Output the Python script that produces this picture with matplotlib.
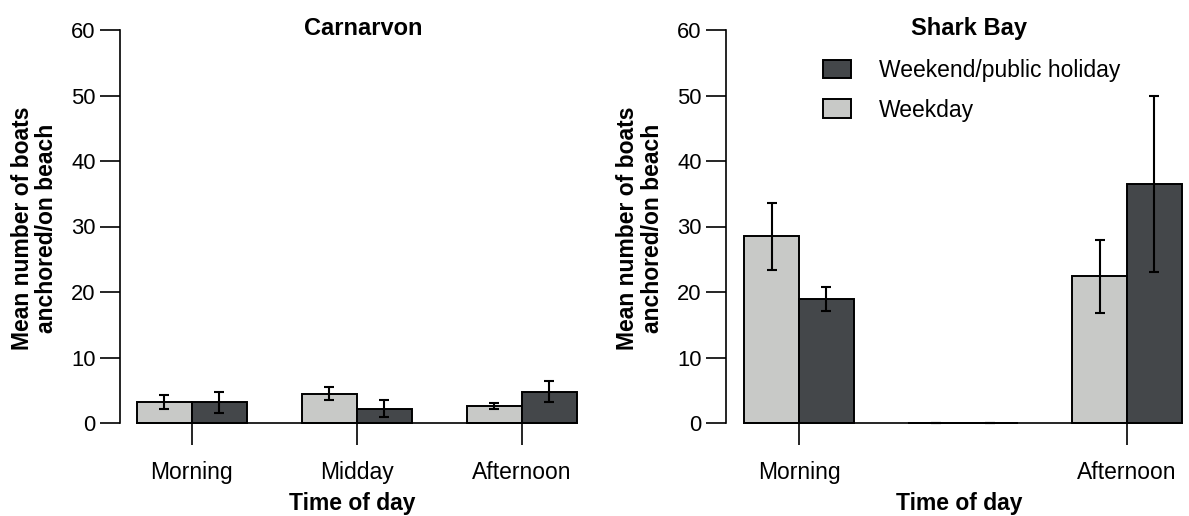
import matplotlib
matplotlib.use('Agg')
import matplotlib.pyplot as plt
import numpy as np

plt.rcParams['font.family'] = ['Liberation Sans', 'DejaVu Sans']

# ---- data ----
categories = ['Morning', 'Midday', 'Afternoon']

carn_weekday = [3.2, 4.5, 2.6]
carn_weekday_err = [1.0, 1.0, 0.5]
carn_weekend = [3.2, 2.2, 4.8]
carn_weekend_err = [1.6, 1.3, 1.6]

# Shark Bay: no midday observations
shark_weekday = [28.5, 0.0, 22.4]
shark_weekday_err = [5.1, 0.0, 5.6]
shark_weekend = [18.9, 0.0, 36.5]
shark_weekend_err = [1.8, 0.0, 13.4]
shark_tick_labels = ['Morning', 'Afternoon']

series_labels = ['Weekday', 'Weekend/public holiday']
y_ticks = [0, 10, 20, 30, 40, 50, 60]

LIGHT = '#c8c9c7'
DARK = '#44474a'

W, H = 1189, 516
fig = plt.figure(figsize=(W / 100, H / 100), dpi=100)
axL = fig.add_axes([120 / W, 93 / H, 457 / W, 393 / H])
axR = fig.add_axes([725.7 / W, 93 / H, 456 / W, 393 / H])


def panel(ax, title, wd, wd_err, we, we_err, tick_labels, x_off, title_x):
    x = np.arange(len(categories), dtype=float)
    w = 1 / 3
    wd = np.asarray(wd); we = np.asarray(we)
    wd_err = np.asarray(wd_err); we_err = np.asarray(we_err)
    b1 = ax.bar(x - w / 2, wd, w, color=LIGHT, edgecolor='black', linewidth=1.4,
                zorder=2, clip_on=False, label=series_labels[0])
    b2 = ax.bar(x + w / 2, we, w, color=DARK, edgecolor='black', linewidth=1.4,
                zorder=2, clip_on=False, label=series_labels[1])
    ax.errorbar(x - w / 2, wd, yerr=wd_err, fmt='none', ecolor='black',
                elinewidth=1.5, capsize=3.6, capthick=1.5, zorder=3, clip_on=False)
    ax.errorbar(x + w / 2, we, yerr=we_err, fmt='none', ecolor='black',
                elinewidth=1.5, capsize=3.6, capthick=1.5, zorder=3, clip_on=False)
    ax.set_ylim(0, 60)
    ax.set_yticks(y_ticks)
    ax.set_xlim(-w - x_off, 2 + w)
    tick_pos = [i for i, c in enumerate(categories) if c in tick_labels]
    ax.set_xticks(tick_pos)
    ax.set_xticklabels([categories[i] for i in tick_pos])
    for s in ['top', 'right']:
        ax.spines[s].set_visible(False)
    ax.spines['left'].set_bounds(0, 60)
    ax.spines['bottom'].set_bounds(-w, 2 + w)
    ax.spines['left'].set_linewidth(1.2)
    ax.spines['bottom'].set_linewidth(1.2)
    ax.tick_params(axis='y', direction='out', length=14.4, width=1.2, pad=3,
                   labelsize=15.8)
    ax.tick_params(axis='x', direction='out', length=15.8, width=1.2, pad=11.5,
                   labelsize=16.5)
    ax.text(title_x, 1 + 1.5 / 393, title, transform=ax.transAxes, ha='center',
            va='center', fontsize=17, fontweight='bold')
    return b1, b2


panel(axL, 'Carnarvon', carn_weekday, carn_weekday_err, carn_weekend,
      carn_weekend_err, categories, 16.7 / 165, 0.532)
b1, b2 = panel(axR, 'Shark Bay', shark_weekday, shark_weekday_err, shark_weekend,
               shark_weekend_err, shark_tick_labels, 18.6 / 164, 0.533)

leg = axR.legend([b2, b1], [series_labels[1], series_labels[0]], loc='upper left',
                 bbox_to_anchor=(0.2134, 0.926), frameon=False, fontsize=16.5,
                 handlelength=1.2, handleheight=0.86, handletextpad=1.25,
                 labelspacing=0.72, borderpad=0, borderaxespad=0)

ylab = 'Mean number of boats\nanchored/on beach'
fig.text(34.5 / W, 1 - 228 / H, ylab, rotation=90, ha='center', va='center',
         fontsize=16.5, fontweight='bold', linespacing=1.1, multialignment='center')
fig.text(640 / W, 1 - 228 / H, ylab, rotation=90, ha='center', va='center',
         fontsize=16.5, fontweight='bold', linespacing=1.1, multialignment='center')

fig.text(352 / W, (H - 510) / H, 'Time of day', ha='center', va='baseline',
         fontsize=16.5, fontweight='bold')
fig.text(958.8 / W, (H - 510) / H, 'Time of day', ha='center', va='baseline',
         fontsize=16.5, fontweight='bold')

fig.savefig('out.png', dpi=100)
